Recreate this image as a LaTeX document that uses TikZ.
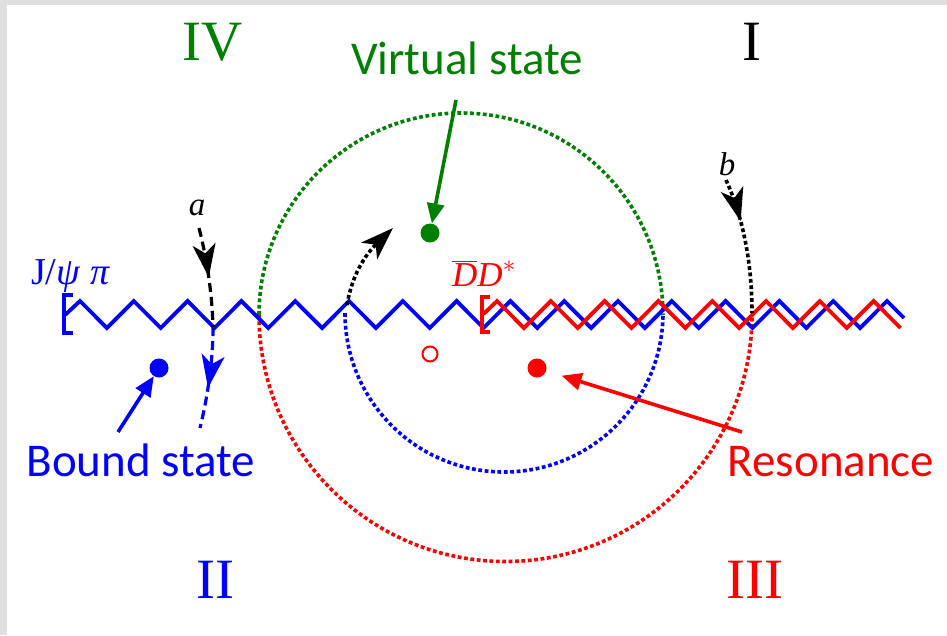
\documentclass[tikz,border=0pt]{standalone}
\usepackage{fontspec}
\setmainfont{Liberation Serif}
\newfontfamily\calfont{Carlito}
\usetikzlibrary{arrows.meta,decorations.markings,calc}
\definecolor{dgreen}{RGB}{0,128,0}
\definecolor{pblue}{RGB}{0,0,255}
\definecolor{pred}{RGB}{255,0,0}
\begin{document}
\begin{tikzpicture}[x=1pt,y=-1pt,
  dotl/.style={line width=3.6pt,dash pattern=on 3.8pt off 2.6pt},
  dashl/.style={line width=3.2pt,dash pattern=on 9pt off 5pt},
  zig/.style={line width=3.8pt,line join=miter},
  dot/.style={circle,fill,inner sep=0pt,minimum size=19pt},
  lab/.style={font=\calfont\fontsize{47}{50}\selectfont,anchor=base,inner sep=0pt},
  roman/.style={font=\fontsize{57}{60}\selectfont,anchor=base,inner sep=0pt},
  labarrow/.style={line width=3.6pt,-{Triangle[length=20pt,width=17pt]}},
  midhead/.style={postaction={decorate},decoration={markings,mark=at position #1 with {\arrow{Stealth[length=33pt,width=23pt,inset=9pt]}}}}
]
\useasboundingbox (0,0) rectangle (947,635);
\fill[gray!25] (0,0) rectangle (947,635);
\fill[white] (7,5) rectangle (947,635);

% circles
\draw[dotl,dgreen] (259,315) arc[start angle=180,end angle=0,radius=202pt];
\draw[dotl,pred] (259,315) arc[start angle=180,end angle=360,radius=246.5pt];
\draw[dotl,pblue] (345,313) arc[start angle=180,end angle=360,radius=159pt];

% zigzags
\draw[zig,pblue] (65,315) \foreach \k in {0,...,14}{ -- ({80+53.8*\k},301) -- ({106.9+53.8*\k},328)} -- (887,301) -- (904,318);
\draw[zig,pred] (483.5,314) \foreach \k in {0,...,7}{ -- ({497+53.8*\k},301) -- ({523.9+53.8*\k},328)};
\draw[pblue,line width=3.2pt] (73,295) -- (64,295) -- (64,333) -- (73,333);
\draw[pred,line width=3.2pt] (490,297) -- (482,297) -- (482,332) -- (490,332);

% paths a, b and middle
\draw[dashl,black,midhead=0.5] (199,228) .. controls (206,255) and (212,290) .. (213,327);
\draw[dashl,pblue,midhead=0.6] (213,327) .. controls (213,360) and (208,395) .. (200,428);
\draw[dotl,black,midhead=0.32] (726,180) .. controls (742,215) and (752,260) .. (752,313);
\draw[dotl,black,-{Stealth[length=33pt,width=23pt,inset=9pt]}] (347,305) .. controls (352,275) and (365,255) .. (393,228);

% dots
\node[dot,dgreen] (gdot) at (430,233) {};
\node[dot,pblue] (bdot) at (159,368) {};
\node[dot,pred] (rdot) at (537,368) {};
\node[circle,draw=pred,line width=2pt,fill=white,inner sep=0pt,minimum size=15pt] (odot) at (430,354) {};

% labels
\node[lab,dgreen] (vs) at (467,74) {Virtual state};
\node[lab,pblue] (bs) at (141,476) {Bound state};
\node[lab,pred] (rs) at (831,476) {Resonance};
\coordinate (vsA) at (456,100);
\coordinate (bsA) at (118,432);
\coordinate (rsA) at (742,432);
\draw[labarrow,dgreen] (vsA) -- (gdot);
\draw[labarrow,pblue] (bsA) -- (bdot);
\draw[labarrow,pred,shorten >=16pt] (rsA) -- (rdot);

\node[roman,dgreen] (r4) at (213,60) {IV};
\node[roman] (r1) at (752,60) {I};
\node[roman,pblue] (r2) at (215,598) {II};
\node[roman,pred] (r3) at (755,598) {III};

\node[font=\fontsize{38}{40}\selectfont,anchor=base west,inner sep=0pt,pblue] (jpsi) at (31,284) {J/\textit{ψ} \textit{π}};
\node[font=\fontsize{35}{37}\selectfont,anchor=base west,inner sep=0pt,pred] (dd) at (452,286) {$\overline{\mbox{\itshape D}}\mbox{\itshape D}^{\ast}$};
\node[font=\itshape\fontsize{33}{35}\selectfont,anchor=base,inner sep=0pt] (la) at (197,215) {a};
\node[font=\itshape\fontsize{33}{35}\selectfont,anchor=base,inner sep=0pt] (lb) at (727,175) {b};
\end{tikzpicture}
\end{document}
